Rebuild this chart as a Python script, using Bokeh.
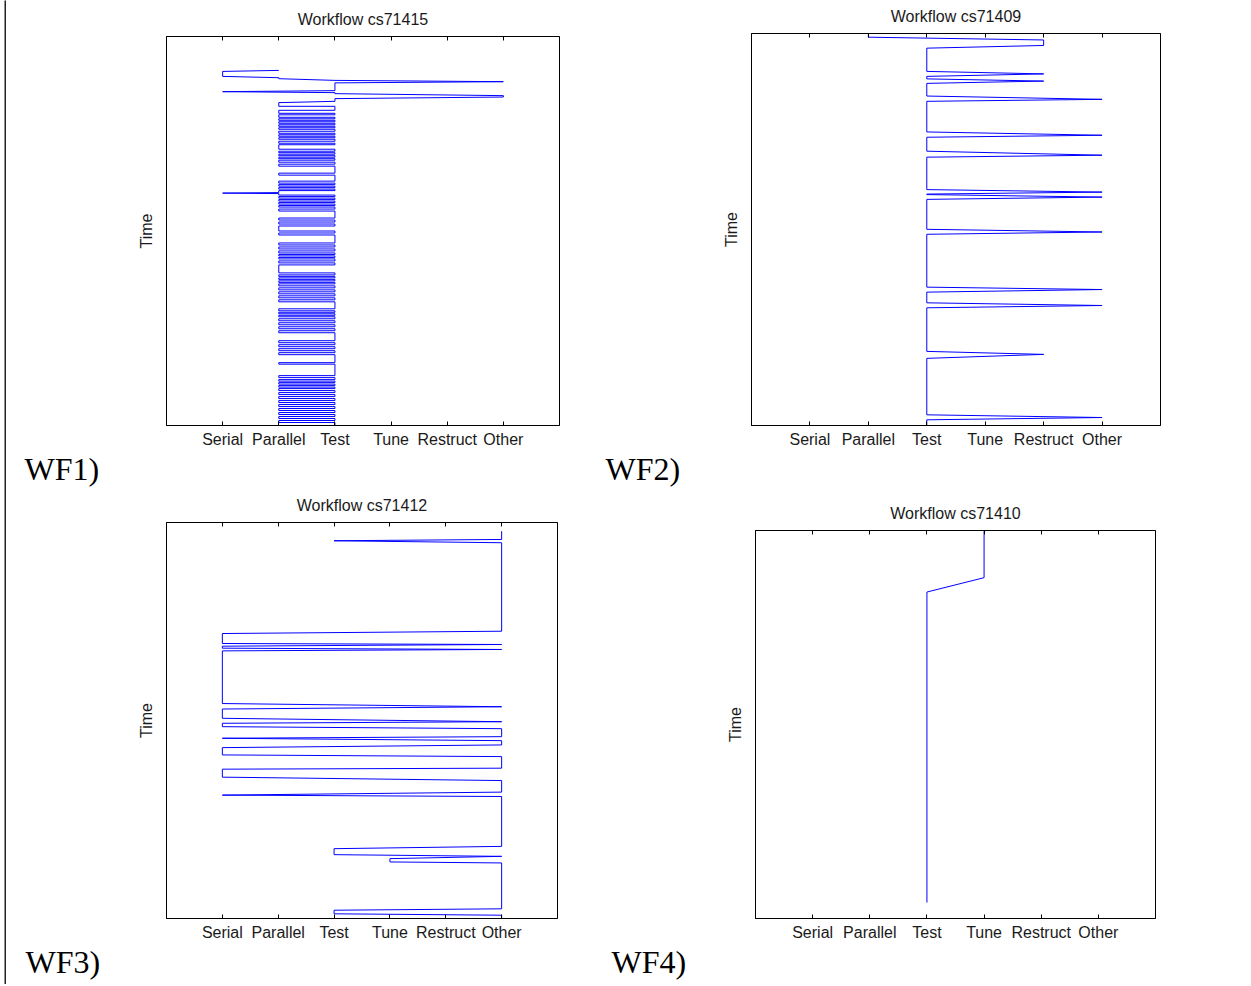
from bokeh.plotting import figure
from bokeh.models import Range1d, FixedTicker, LinearAxis, Title, Spacer
from bokeh.layouts import row, column
from bokeh.embed import file_html
from bokeh.resources import INLINE

# ---------------- data ----------------
stages = ["Serial", "Parallel", "Test", "Tune", "Restruct", "Other"]
stage_pos = [1, 2, 3, 4, 5, 6]          # stage codes used in the *_stage lists

titles = ["Workflow cs71415", "Workflow cs71409", "Workflow cs71412", "Workflow cs71410"]
tags = ["WF1)", "WF2)", "WF3)", "WF4)"]
time_spans = [390, 393, 397, 389]       # visible time extent of each panel

# WF1 (cs71415): samples (time, stage code)
wf1_time = [
    34, 35, 40, 41.3, 42.3, 44, 45.3, 46.5, 54.3, 55.3, 56.3, 57.3, 59.3, 60.7, 62.3, 65, 66.3,
    70, 70, 74, 74, 77, 77, 78.5, 78.5, 81, 81, 82.5, 82.5, 84, 84, 85.5, 85.5, 87, 87, 88.5, 88.5,
    90, 90, 91.5, 91.5, 93, 93, 95, 95, 97, 97, 98.5, 98.5, 100, 100, 101.5, 101.5, 103, 103, 105, 105,
    107, 107, 108.5, 108.5, 113, 113, 115, 115, 116.5, 116.5, 118, 118, 119.5, 119.5, 121, 121, 122.5, 122.5, 124, 124,
    126, 126, 128, 128, 130, 130, 137, 137, 139, 139, 145, 145, 147, 147, 148.5, 148.5, 150, 150, 151.5, 151.5,
    153, 153, 154.5, 154.5,
    156.5, 157, 157.5,
    159, 159, 160.5, 160.5, 162, 162, 163.5, 163.5, 165, 165, 166.5, 166.5, 168, 168, 169.5, 169.5, 171, 171, 173, 173,
    175, 175, 182, 182, 184, 184, 186, 186, 188, 188, 190, 190, 195, 195, 197, 197, 199, 199, 207, 207,
    209, 209, 211, 211, 213, 213, 215, 215, 217, 217, 218.5, 218.5, 220, 220, 221.5, 221.5, 223, 223, 225, 225,
    227, 227, 229, 229, 237, 237, 239, 239, 240.5, 240.5, 242, 242, 243.5, 243.5, 245, 245, 246.5, 246.5, 248, 248,
    250, 250, 252, 252, 254, 254, 256, 256, 258, 258, 260, 260, 262, 262, 264, 264, 266, 266, 273, 273,
    275, 275, 276.5, 276.5, 278, 278, 279.5, 279.5, 281, 281, 283, 283, 285, 285, 287, 287, 289, 289, 291, 291,
    293, 293, 295, 295, 297, 297, 305, 305, 307, 307, 309, 309, 311, 311, 313, 313, 315, 315, 317, 317,
    319, 319, 327, 327, 328.5, 328.5, 340, 340, 342, 342, 344, 344, 345.5, 345.5, 347, 347, 348.5, 348.5, 350, 350,
    351.5, 351.5, 353, 353, 355, 355, 357, 357, 359, 359, 361, 361, 363, 363, 365, 365, 367, 367, 369, 369,
    371, 371, 373, 373, 375, 375, 377, 377, 379, 379, 381, 381, 383, 383, 385, 385, 387, 387,
    390,
]
wf1_stage = [
    2, 1, 1, 2, 2, 3, 6, 3, 3, 1, 3, 3, 6, 6, 3, 3, 2,
    2, 3, 3, 2, 2, 3, 3, 2, 2, 3, 3, 2, 2, 3, 3, 2, 2, 3, 3, 2,
    2, 3, 3, 2, 2, 3, 3, 2, 2, 3, 3, 2, 2, 3, 3, 2, 2, 3, 3, 2,
    2, 3, 3, 2, 2, 3, 3, 2, 2, 3, 3, 2, 2, 3, 3, 2, 2, 3, 3, 2,
    2, 3, 3, 2, 2, 3, 3, 2, 2, 3, 3, 2, 2, 3, 3, 2, 2, 3, 3, 2,
    2, 3, 3, 2,
    2, 1, 2,
    2, 3, 3, 2, 2, 3, 3, 2, 2, 3, 3, 2, 2, 3, 3, 2, 2, 3, 3, 2,
    2, 3, 3, 2, 2, 3, 3, 2, 2, 3, 3, 2, 2, 3, 3, 2, 2, 3, 3, 2,
    2, 3, 3, 2, 2, 3, 3, 2, 2, 3, 3, 2, 2, 3, 3, 2, 2, 3, 3, 2,
    2, 3, 3, 2, 2, 3, 3, 2, 2, 3, 3, 2, 2, 3, 3, 2, 2, 3, 3, 2,
    2, 3, 3, 2, 2, 3, 3, 2, 2, 3, 3, 2, 2, 3, 3, 2, 2, 3, 3, 2,
    2, 3, 3, 2, 2, 3, 3, 2, 2, 3, 3, 2, 2, 3, 3, 2, 2, 3, 3, 2,
    2, 3, 3, 2, 2, 3, 3, 2, 2, 3, 3, 2, 2, 3, 3, 2, 2, 3, 3, 2,
    2, 3, 3, 2, 2, 3, 3, 2, 2, 3, 3, 2, 2, 3, 3, 2, 2, 3, 3, 2,
    2, 3, 3, 2, 2, 3, 3, 2, 2, 3, 3, 2, 2, 3, 3, 2, 2, 3, 3, 2,
    2, 3, 3, 2, 2, 3, 3, 2, 2, 3, 3, 2, 2, 3, 3, 2, 2, 3,
    3,
]

# WF2 (cs71409)
wf2_time = [0, 3.7, 6.5, 12, 14.7, 38, 40.5, 43, 45.5, 47.7, 50, 62.7, 66, 68,
            98.7, 102, 104, 118, 122, 124, 156.5, 159, 161, 161.5, 164, 166.3,
            196.3, 199, 201.3, 254.3, 256.7, 259.3, 270, 272.7, 275,
            318.7, 321.7, 325.7, 382.3, 385, 387.3, 393]
wf2_stage = [2, 2, 5, 5, 3, 3, 5, 3, 3, 5, 3, 3, 6, 3,
             3, 6, 3, 3, 6, 3, 3, 6, 3, 3, 6, 3,
             3, 6, 3, 3, 6, 3, 3, 6, 3,
             3, 5, 3, 3, 6, 3, 3]

# WF3 (cs71412)
wf3_time = [8.7, 17, 18.3, 20.3, 109, 111.3, 121.3, 122.3, 124, 126, 127.3, 128.7,
            181.5, 184.7, 187, 196.3, 199.7, 201.3, 204.7, 206.7, 214.7, 216.3,
            218.7, 223, 225.7, 233, 234.7, 246.3, 247.3, 255.3, 258.7, 270.3,
            273.3, 274.7, 324.7, 327, 333, 334.7, 337, 340.3, 341.3, 387.3,
            388.7, 392.3, 393.7, 397]
wf3_stage = [6, 6, 3, 6, 6, 1, 1, 6, 1, 1, 6, 1,
             1, 6, 1, 1, 6, 1, 1, 6, 6, 1,
             6, 6, 1, 1, 6, 6, 1, 1, 6, 6,
             1, 6, 6, 3, 3, 6, 4, 4, 6, 6,
             3, 3, 6, 6]

# WF4 (cs71410)
wf4_time = [0, 47.3, 61.7, 373]
wf4_stage = [4, 4, 3, 3]

# ---------------- styling ----------------
SANS = "Liberation Sans"
SERIF = "Liberation Serif"
INK = "#1a1a1a"
BLUE = "#0000ff"


def make_panel(title, times, codes, span, w, h, bl, br, bt, bb, tag, tag_offset):
    p = figure(width=w, height=h,
               min_border_left=bl, min_border_right=br,
               min_border_top=bt, min_border_bottom=bb,
               x_range=Range1d(0, 7), y_range=Range1d(span, 0),
               output_backend="svg", toolbar_location=None,
               background_fill_color="white", border_fill_color="white")
    p.title = Title(text=title, text_font=SANS, text_font_size="16px",
                    text_font_style="normal", text_color=INK, align="center",
                    standoff=13, vertical_align="top")
    p.line(x=codes, y=times, line_color=BLUE, line_width=1)

    p.xgrid.visible = False
    p.ygrid.visible = False
    p.outline_line_color = "black"
    p.outline_line_alpha = 1.0
    p.outline_line_width = 1

    xa = p.below[0]
    xa.ticker = FixedTicker(ticks=stage_pos)
    xa.major_label_overrides = {k: s for k, s in zip(stage_pos, stages)}
    xa.major_tick_in = 4
    xa.major_tick_out = 0
    xa.minor_tick_in = 0
    xa.minor_tick_out = 0
    xa.major_label_standoff = 5
    xa.major_label_text_font = SANS
    xa.major_label_text_font_size = "16px"
    xa.major_label_text_color = INK
    xa.axis_line_color = "black"
    xa.major_tick_line_color = "black"

    ya = p.left[0]
    ya.ticker = FixedTicker(ticks=[])
    ya.major_tick_in = 0
    ya.major_tick_out = 0
    ya.minor_tick_in = 0
    ya.minor_tick_out = 0
    ya.axis_label = "Time"
    ya.axis_label_text_font = SANS
    ya.axis_label_text_font_size = "16px"
    ya.axis_label_text_font_style = "normal"
    ya.axis_label_text_color = INK
    ya.axis_label_standoff = 12
    ya.axis_line_color = "black"

    top = LinearAxis(ticker=FixedTicker(ticks=stage_pos),
                     major_label_overrides={k: "" for k in stage_pos},
                     major_tick_in=4, major_tick_out=0,
                     minor_tick_in=0, minor_tick_out=0,
                     major_label_text_font_size="1px",
                     major_label_standoff=0,
                     axis_line_color="black", major_tick_line_color="black")
    p.add_layout(top, "above")

    p.add_layout(Title(text=tag, align="left", offset=tag_offset,
                       standoff=0, vertical_align="top", text_font=SERIF,
                       text_font_size="32px", text_font_style="normal",
                       text_color="black"), "below")
    return p


# every panel in a row shares the same top / bottom borders; the small
# vertical differences between the reference panels come from spacers
f1 = make_panel(titles[0], wf1_time, wf1_stage, time_spans[0],
                592, 485, 160, 39, 33, 62, tags[0], -142)
f2 = make_panel(titles[1], wf2_time, wf2_stage, time_spans[1],
                647, 488, 153, 85, 33, 62, tags[1], -146)
f3 = make_panel(titles[2], wf3_time, wf3_stage, time_spans[2],
                592, 493, 160, 41, 34, 62, tags[2], -141)
f4 = make_panel(titles[3], wf4_time, wf4_stage, time_spans[3],
                647, 485, 157, 90, 34, 62, tags[3], -144)

# thin page rule at the far left
strip = figure(width=2, height=984, min_border=0, toolbar_location=None,
               output_backend="svg", x_axis_type=None, y_axis_type=None,
               outline_line_color=None, background_fill_color="#222222",
               border_fill_color="#222222")
strip.xgrid.visible = False
strip.ygrid.visible = False

top_row = row(column(Spacer(width=592, height=3), f1), column(f2))
bottom_row = row(column(f3), column(Spacer(width=647, height=8), f4))

layout = row(Spacer(width=4, height=984), strip, column(top_row, bottom_row))

open("out.html", "w").write(file_html(layout, INLINE))
